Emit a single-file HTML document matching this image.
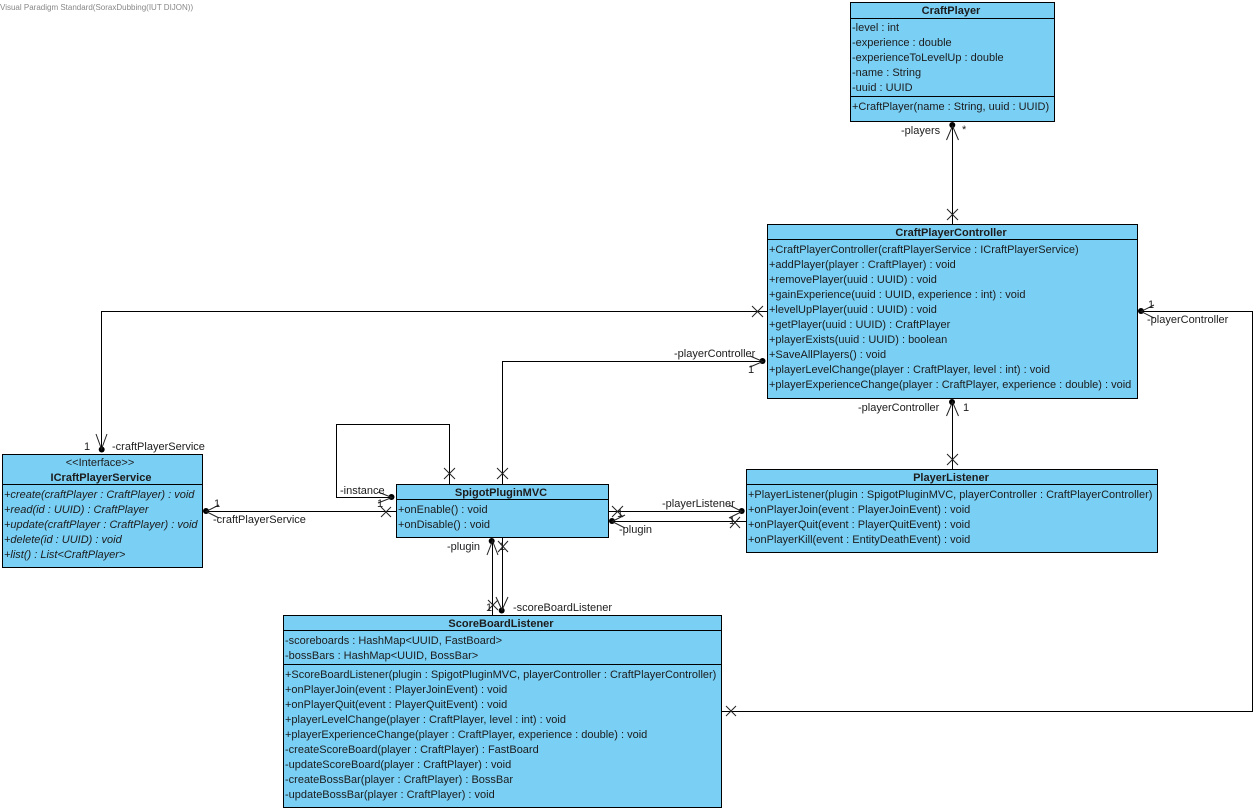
<!DOCTYPE html>
<html><head><meta charset="utf-8"><style>
html,body{margin:0;padding:0;background:#fff;width:1256px;height:811px;overflow:hidden}
svg{display:block}
text{font-family:"Liberation Sans",Arial,sans-serif;font-size:11px;fill:#1c1c1c}
.b{font-weight:bold;text-anchor:middle}
.i{font-style:italic}
.box{fill:#7ACFF5;stroke:#000;stroke-width:1}
.s{stroke:#000;stroke-width:1;fill:none}
.x{stroke:#222;stroke-width:1;fill:none}
</style></head><body>
<svg width="1256" height="811" viewBox="0 0 1256 811" xmlns="http://www.w3.org/2000/svg">
<text x="0" y="10" style="font-size:8px;fill:#888">Visual Paradigm Standard(SoraxDubbing(IUT DIJON))</text>

<!-- connectors -->
<path class="s" d="M952.5 125V224M767 311.5H101.5V450M502.5 484V361.5H763M449.5 484V424.5H336.5V497.5H392M396 511.5H206M608 511.5H742M612 521.5H746M492.5 541V615M502.5 538V610M952.5 402V469M1141 311.5H1252.5V711.5H722"/>

<!-- dots -->
<g fill="#000">
<circle cx="952.3" cy="125" r="3"/><circle cx="101.7" cy="449.5" r="3"/><circle cx="762.5" cy="361" r="3"/>
<circle cx="391.5" cy="497" r="3"/><circle cx="206" cy="511" r="3"/><circle cx="741.7" cy="511" r="3"/>
<circle cx="612" cy="521" r="3"/><circle cx="491.7" cy="541" r="3"/><circle cx="501.7" cy="610.5" r="3"/>
<circle cx="952" cy="402" r="3"/><circle cx="1141" cy="311" r="3"/>
</g>

<!-- arrow heads -->
<path class="x" d="M946.5 140L952.5 126L958.5 140M96 434L101.5 449L107 434M750 356L763 361.5L750 367M378 492L392 497.5L378 503M219 505L206 511.5L219 518M729 505L742 511.5L729 518M625 515L612 521.5L625 528M487 555L492.5 541L498 555M496 597L502 610L508 597M946.5 416L952.5 402L958.5 416M1154 305L1141 311.5L1154 318"/>

<!-- X marks -->
<path class="x" d="M947 209L958 220M958 209L947 220M752 306L763 317M763 306L752 317M444 468L455 479M455 468L444 479M497 468L508 479M508 468L497 479M381 507L391 517M391 507L381 517M612 506L623 517M623 506L612 517M730 517L740 528M740 517L730 528M488 600L498 610M498 600L488 610M498 541L508 552M508 541L498 552M947 454L958 465M958 454L947 465M726 706L736 716M736 706L726 716"/>

<!-- CraftPlayer -->
<rect class="box" x="850.5" y="2.5" width="204" height="119"/>
<path class="s" d="M850 18.5H1055M850 96.5H1055"/>
<text class="b" x="951" y="14">CraftPlayer</text>
<text x="852" y="31">-level : int</text>
<text x="852" y="46">-experience : double</text>
<text x="852" y="61">-experienceToLevelUp : double</text>
<text x="852" y="76">-name : String</text>
<text x="852" y="91">-uuid : UUID</text>
<text x="852" y="110">+CraftPlayer(name : String, uuid : UUID)</text>

<!-- CraftPlayerController -->
<rect class="box" x="767.5" y="224.5" width="370" height="174"/>
<path class="s" d="M767 239.5H1138"/>
<text class="b" x="951" y="236">CraftPlayerController</text>
<text x="769" y="253">+CraftPlayerController(craftPlayerService : ICraftPlayerService)</text>
<text x="769" y="268">+addPlayer(player : CraftPlayer) : void</text>
<text x="769" y="283">+removePlayer(uuid : UUID) : void</text>
<text x="769" y="298">+gainExperience(uuid : UUID, experience : int) : void</text>
<text x="769" y="313">+levelUpPlayer(uuid : UUID) : void</text>
<text x="769" y="328">+getPlayer(uuid : UUID) : CraftPlayer</text>
<text x="769" y="343">+playerExists(uuid : UUID) : boolean</text>
<text x="769" y="358">+SaveAllPlayers() : void</text>
<text x="769" y="373">+playerLevelChange(player : CraftPlayer, level : int) : void</text>
<text x="769" y="388">+playerExperienceChange(player : CraftPlayer, experience : double) : void</text>

<!-- ICraftPlayerService -->
<rect class="box" x="2.5" y="454.5" width="200" height="113"/>
<path class="s" d="M2 484.5H203"/>
<text x="100" y="466" text-anchor="middle">&lt;&lt;Interface&gt;&gt;</text>
<text class="b" x="101" y="481">ICraftPlayerService</text>
<text class="i" x="4" y="498">+create(craftPlayer : CraftPlayer) : void</text>
<text class="i" x="4" y="513">+read(id : UUID) : CraftPlayer</text>
<text class="i" x="4" y="528">+update(craftPlayer : CraftPlayer) : void</text>
<text class="i" x="4" y="543">+delete(id : UUID) : void</text>
<text class="i" x="4" y="558">+list() : List&lt;CraftPlayer&gt;</text>

<!-- SpigotPluginMVC -->
<rect class="box" x="396.5" y="484.5" width="212" height="53"/>
<path class="s" d="M396 499.5H609"/>
<text class="b" x="501" y="496">SpigotPluginMVC</text>
<text x="398" y="513">+onEnable() : void</text>
<text x="398" y="528">+onDisable() : void</text>

<!-- PlayerListener -->
<rect class="box" x="746.5" y="469.5" width="411" height="83"/>
<path class="s" d="M746 484.5H1158"/>
<text class="b" x="951" y="481">PlayerListener</text>
<text x="748" y="498">+PlayerListener(plugin : SpigotPluginMVC, playerController : CraftPlayerController)</text>
<text x="748" y="513">+onPlayerJoin(event : PlayerJoinEvent) : void</text>
<text x="748" y="528">+onPlayerQuit(event : PlayerQuitEvent) : void</text>
<text x="748" y="543">+onPlayerKill(event : EntityDeathEvent) : void</text>

<!-- ScoreBoardListener -->
<rect class="box" x="283.5" y="615.5" width="438" height="192"/>
<path class="s" d="M283 630.5H722M283 664.5H722"/>
<text class="b" x="501" y="627">ScoreBoardListener</text>
<text x="285" y="644">-scoreboards : HashMap&lt;UUID, FastBoard&gt;</text>
<text x="285" y="659">-bossBars : HashMap&lt;UUID, BossBar&gt;</text>
<text x="285" y="678">+ScoreBoardListener(plugin : SpigotPluginMVC, playerController : CraftPlayerController)</text>
<text x="285" y="693">+onPlayerJoin(event : PlayerJoinEvent) : void</text>
<text x="285" y="708">+onPlayerQuit(event : PlayerQuitEvent) : void</text>
<text x="285" y="723">+playerLevelChange(player : CraftPlayer, level : int) : void</text>
<text x="285" y="738">+playerExperienceChange(player : CraftPlayer, experience : double) : void</text>
<text x="285" y="753">-createScoreBoard(player : CraftPlayer) : FastBoard</text>
<text x="285" y="768">-updateScoreBoard(player : CraftPlayer) : void</text>
<text x="285" y="783">-createBossBar(player : CraftPlayer) : BossBar</text>
<text x="285" y="798">-updateBossBar(player : CraftPlayer) : void</text>

<!-- connector labels -->
<text x="901" y="134">-players</text>
<text x="962" y="133">*</text>
<text x="84" y="450">1</text>
<text x="112" y="450">-craftPlayerService</text>
<text x="674" y="357">-playerController</text>
<text x="748" y="373">1</text>
<text x="340" y="494">-instance</text>
<text x="377" y="507">1</text>
<text x="214" y="507">1</text>
<text x="213" y="523">-craftPlayerService</text>
<text x="662" y="507">-playerListener</text>
<text x="619" y="533">-plugin</text>
<text x="617" y="517">1</text>
<text x="729" y="524">1</text>
<text x="447" y="550">-plugin</text>
<text x="513" y="611">-scoreBoardListener</text>
<text x="486" y="611">1</text>
<text x="499" y="550">1</text>
<text x="858" y="411">-playerController</text>
<text x="963" y="411">1</text>
<text x="1148" y="308">1</text>
<text x="1147" y="323">-playerController</text>
</svg>
</body></html>
